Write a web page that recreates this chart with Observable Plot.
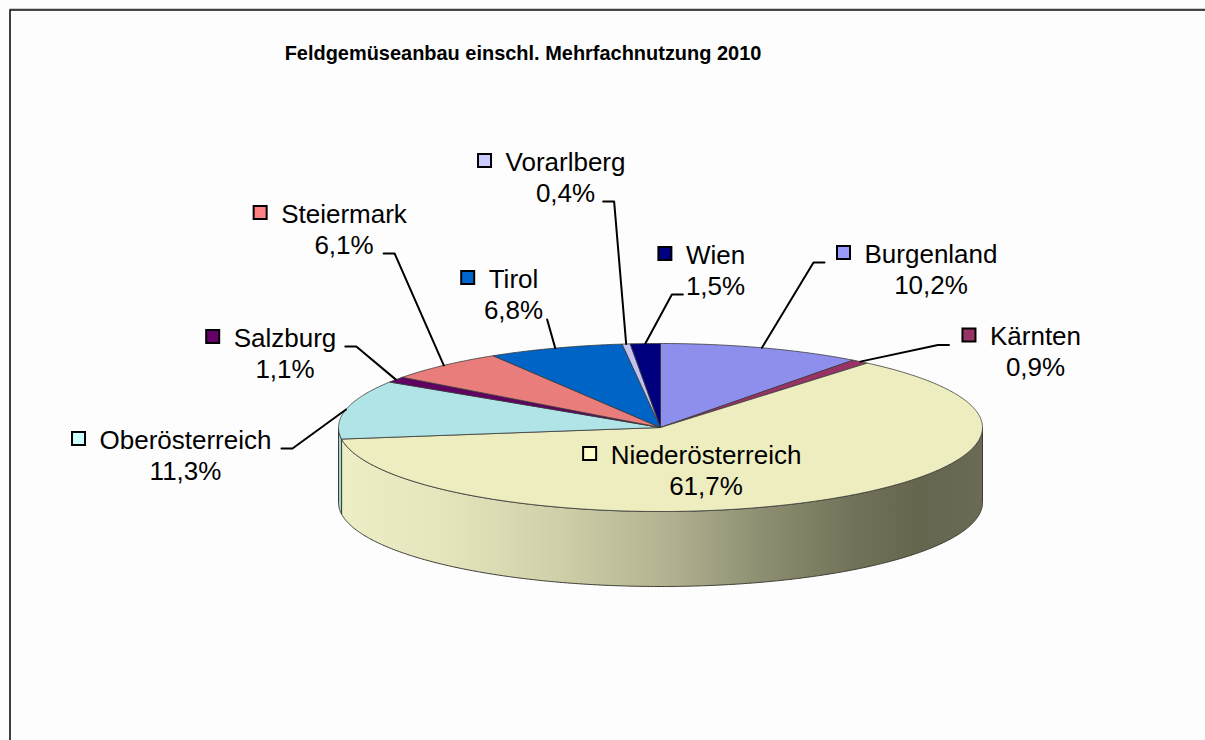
<!DOCTYPE html>
<html><head><meta charset="utf-8">
<script src="https://cdn.jsdelivr.net/npm/d3@7"></script>
<script src="https://cdn.jsdelivr.net/npm/@observablehq/plot@0.6"></script>
<style>
html,body{margin:0;padding:0;background:#fdfdfd;overflow:hidden;width:1205px;height:740px;}
#wrap{position:absolute;left:0;top:0;width:1205px;height:740px;overflow:hidden;}
#chart{position:absolute;left:0;top:0;}
#title{position:absolute;left:0;width:1046px;top:41px;text-align:center;font:bold 21px "Liberation Sans",Arial,sans-serif;line-height:24px;color:#000;transform:scaleX(0.95);transform-origin:523px 0;white-space:nowrap;}
</style></head>
<body>
<div id="wrap"><div id="chart"></div><div id="title">Feldgemüseanbau einschl. Mehrfachnutzung 2010</div></div>
<script>
// ---- data ----
const regions = ["Burgenland","Kärnten","Niederösterreich","Oberösterreich","Salzburg","Steiermark","Tirol","Vorarlberg","Wien"];
const shares = [10.2, 0.9, 61.7, 11.3, 1.1, 6.1, 6.8, 0.4, 1.5];
const pctLabels = ["10,2%","0,9%","61,7%","11,3%","1,1%","6,1%","6,8%","0,4%","1,5%"];

// ---- styles ----
const keyColors = ["#9999FF","#993366","#FFFFCC","#CCFFFF","#660066","#FF8080","#0066CC","#CCCCFF","#000080"];
const topColors = ["#8E8EEC","#993366","#EDEDBF","#B1E4E7","#600062","#E97D7B","#0063C6","#C2C2F0","#00007E"];
const sideColors = ["#6f6fb8","#6d2449","url(#sideGrad)","#A6D2D6","#4a004a","#b5605e","#004d99","#9898c0","#000060"];

// ---- layout (label anchor: text centre / first baseline, relative to pie centre) ----
const labelX = [270.5, 375, 45.5, -475, -375.5, -316.5, -147, -95, 55];
const labelY = [-165, -82.5, 36, 21, -81, -205, -140, -257, -164];
const leaderSide = ["left","left","none","right","right","right","tip","right","left"];
const leaderLine = [1, 1, 0, 1, 1, 2, 2, 2, 2];
const leaderGap  = [12, 13, 0, 10, 9, 10, 4, 8, 3];

const RX = 322, RY = 84, DEPTH = 75, FONT = 26, LINE = 31, ELBOW = 11, KEY = 13;
const FRAME_INSET = 10;

const ctx = document.createElement("canvas").getContext("2d");
ctx.font = `${FONT}px "Liberation Sans"`;
const tw = t => ctx.measureText(t).width;

const total = d3.sum(shares);
let acc = 0;
const slices = regions.map((name, i) => {
  const a0 = acc / total * 2 * Math.PI; acc += shares[i];
  const a1 = acc / total * 2 * Math.PI;
  return {i, name, a0, a1, mid: (a0 + a1) / 2};
});
const rim = (t, dy = 0) => [RX * Math.sin(t), -RY * Math.cos(t) + dy];
function arcPts(a0, a1, dy) {
  const n = Math.max(2, Math.ceil((a1 - a0) / (Math.PI / 360)));
  return d3.range(n + 1).map(k => rim(a0 + (a1 - a0) * k / n, dy));
}

// top faces
const topRows = [];
slices.forEach(s => {
  [[0, 0], ...arcPts(s.a0, s.a1, 0), [0, 0]].forEach(([x, y]) => topRows.push({x, y, id: s.name, fill: topColors[s.i]}));
});
// visible side walls (front half)
const sideRows = [];
slices.forEach(s => {
  const lo = Math.max(s.a0, Math.PI / 2), hi = Math.min(s.a1, 3 * Math.PI / 2);
  if (hi > lo) {
    const top = arcPts(lo, hi, 0), bot = arcPts(lo, hi, DEPTH).reverse();
    [...top, ...bot, top[0]].forEach(([x, y]) => sideRows.push({x, y, id: s.name, fill: sideColors[s.i]}));
  }
});

// labels, keys, leaders
const textRows = [], keyRows = [], leaderRows = [];
slices.forEach(s => {
  const i = s.i, cx = labelX[i], by = labelY[i];
  const wName = tw(s.name), wPct = tw(pctLabels[i]);
  textRows.push({x: cx, y: by, text: s.name});
  textRows.push({x: cx, y: by + LINE, text: pctLabels[i]});
  const kx2 = cx - wName / 2 - 14;
  keyRows.push({x1: kx2 - KEY, x2: kx2, y1: by - 16, y2: by - 3, fill: keyColors[i]});
  const side = leaderSide[i];
  if (side === "none") return;
  const r = rim(s.mid, 0);
  let pts;
  if (side === "tip") {
    pts = [[cx + wPct / 2 + leaderGap[i], by + LINE + 1], r];
  } else {
    const ly = leaderLine[i] === 1 ? by : by + LINE;
    const w = leaderLine[i] === 1 ? wName : wPct;
    if (side === "left") {
      const base = leaderLine[i] === 1 ? kx2 - KEY - 1 : cx - w / 2;
      const sx = base - leaderGap[i];
      pts = [[sx, ly], [sx - ELBOW, ly], r];
    } else {
      const sx = cx + w / 2 + leaderGap[i];
      pts = [[sx, ly], [sx + ELBOW, ly], r];
    }
  }
  pts.forEach(([x, y]) => leaderRows.push({x, y, id: s.name}));
});

const defs = () => {
  const d = d3.create("svg:defs");
  const g = d.append("linearGradient").attr("id", "sideGrad").attr("x1", 0).attr("x2", 1).attr("y1", 0).attr("y2", 0);
  [[0, "#EEEEC6"], [0.15, "#E6E6BE"], [0.34, "#CFCFA9"], [0.52, "#B0B08F"], [0.65, "#8F8F73"], [0.8, "#727259"], [0.9, "#66664F"], [1, "#6A6A55"]]
    .forEach(([o, c]) => g.append("stop").attr("offset", o).attr("stop-color", c));
  return d.node();
};

// chart-area border (left and top edges of the Excel chart frame)
const chartFrame = (index, scales, values, dims) => {
  const g = d3.create("svg:g").attr("fill", "none");
  const W = dims.width + 20, H = dims.height + 20, o = FRAME_INSET;
  g.append("path").attr("d", `M${o - 0.5},${o - 1}H${W}`).attr("stroke", "#999").attr("stroke-width", 1);
  g.append("path").attr("d", `M${o},${H}V${o}H${W}`).attr("stroke", "#111").attr("stroke-width", 1.6);
  return g.node();
};

const chart = Plot.plot({
  width: 1205, height: 740, margin: 0,
  style: {background: "transparent"},
  x: {domain: [-660, 545], range: [0, 1205], axis: null},
  y: {domain: [-427, 313], range: [0, 740], axis: null},
  color: {type: "identity"},
  marks: [
    defs,
    chartFrame,
    Plot.line(sideRows, {x: "x", y: "y", z: "id", fill: "fill", stroke: "#3d3d33", strokeWidth: 1, strokeLinejoin: "round"}),
    Plot.line(topRows, {x: "x", y: "y", z: "id", fill: "fill", stroke: "#3a3a3a", strokeWidth: 0.8, strokeLinejoin: "round"}),
    Plot.line(leaderRows, {x: "x", y: "y", z: "id", stroke: "#000", strokeWidth: 2}),
    Plot.rect(keyRows, {x1: "x1", x2: "x2", y1: "y1", y2: "y2", fill: "fill", stroke: "#000", strokeWidth: 2}),
    Plot.text(textRows, {x: "x", y: "y", text: "text", fontSize: FONT, fontFamily: "Liberation Sans, Arial, sans-serif", fill: "#000", textAnchor: "middle", lineAnchor: "bottom"})
  ]
});
document.getElementById("chart").appendChild(chart);
</script>
</body></html>
